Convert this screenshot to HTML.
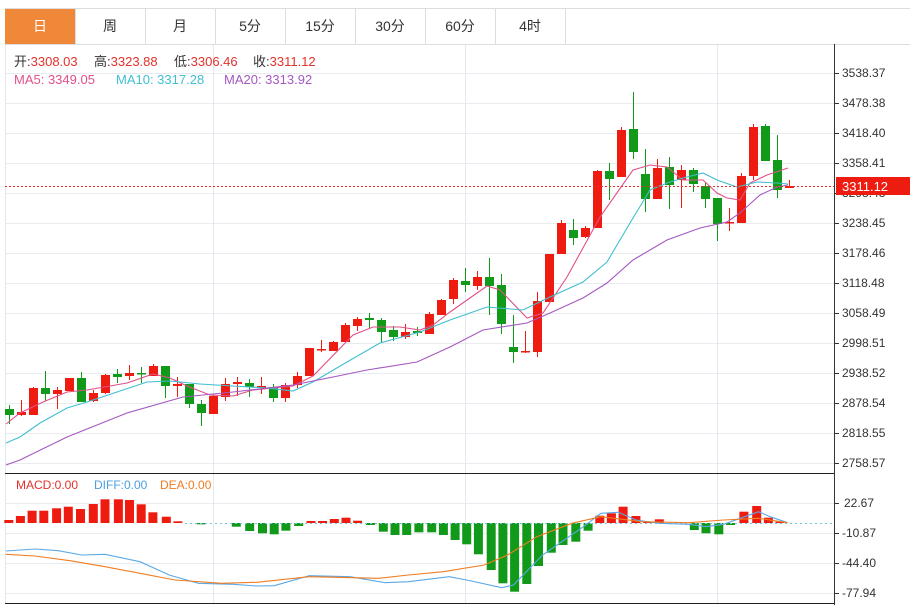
<!DOCTYPE html>
<html><head><meta charset="utf-8"><style>
body{margin:0;background:#fff;width:910px;height:605px;overflow:hidden;font-family:"Liberation Sans","Noto Sans CJK SC",sans-serif}
svg{position:absolute;left:0;top:0}
</style></head><body>
<svg id="s" width="910" height="605" xmlns="http://www.w3.org/2000/svg" font-family="Liberation Sans, Noto Sans CJK SC, sans-serif">
<g id="grid"></g>
<line x1="5" y1="8.5" x2="910" y2="8.5" stroke="#ddd"/>
<line x1="5" y1="44.5" x2="910" y2="44.5" stroke="#ddd"/>
<rect x="5" y="9" width="70" height="35" fill="#f0883a"/>
<g stroke="#ddd"><line x1="145.5" y1="9" x2="145.5" y2="44"/><line x1="215.5" y1="9" x2="215.5" y2="44"/><line x1="285.5" y1="9" x2="285.5" y2="44"/><line x1="355.5" y1="9" x2="355.5" y2="44"/><line x1="425.5" y1="9" x2="425.5" y2="44"/><line x1="495.5" y1="9" x2="495.5" y2="44"/><line x1="565.5" y1="9" x2="565.5" y2="44"/><line x1="75.5" y1="9" x2="75.5" y2="44"/></g>
<g font-size="14" text-anchor="middle" fill="#333">
<text x="40" y="31" fill="#fff">日</text><text x="110" y="31">周</text><text x="180" y="31">月</text><text x="250" y="31">5分</text><text x="320" y="31">15分</text><text x="390" y="31">30分</text><text x="460" y="31">60分</text><text x="530" y="31">4时</text>
</g>
<g font-size="13">
<text x="14" y="66" fill="#333">开:<tspan fill="#e4312b">3308.03</tspan></text>
<text x="94" y="66" fill="#333">高:<tspan fill="#e4312b">3323.88</tspan></text>
<text x="174" y="66" fill="#333">低:<tspan fill="#e4312b">3306.46</tspan></text>
<text x="253" y="66" fill="#333">收:<tspan fill="#e4312b">3311.12</tspan></text>
<text x="14" y="84" fill="#e0508a">MA5: 3349.05</text>
<text x="116" y="84" fill="#3fbfd0">MA10: 3317.28</text>
<text x="224" y="84" fill="#a558c0">MA20: 3313.92</text>
<g font-size="12"><text x="16" y="489" fill="#e4312b">MACD:0.00</text><text x="94" y="489" fill="#4a9ee0">DIFF:0.00</text><text x="160" y="489" fill="#f07d22">DEA:0.00</text></g>
</g>
<g id="plot"></g>
<line x1="834.5" y1="44" x2="834.5" y2="605" stroke="#333"/>
<line x1="5" y1="473.5" x2="834" y2="473.5" stroke="#222"/>
<line x1="5" y1="603.5" x2="834" y2="603.5" stroke="#222"/>
<g font-size="12" fill="#333">
<text x="842" y="77">3538.37</text><text x="842" y="107">3478.38</text><text x="842" y="137">3418.40</text><text x="842" y="167">3358.41</text><text x="842" y="197">3298.43</text><text x="842" y="227">3238.45</text><text x="842" y="257">3178.46</text><text x="842" y="287">3118.48</text><text x="842" y="317">3058.49</text><text x="842" y="347">2998.51</text><text x="842" y="377">2938.52</text><text x="842" y="407">2878.54</text><text x="842" y="437">2818.55</text><text x="842" y="467">2758.57</text>
<text x="844" y="507">22.67</text><text x="842" y="537">-10.87</text><text x="842" y="567">-44.40</text><text x="842" y="597">-77.94</text>
</g>
<line x1="5" y1="186.5" x2="834" y2="186.5" stroke="#e4312b" stroke-dasharray="2,2"/>
<rect x="836" y="177" width="74" height="18" fill="#ee1c10"/>
<text x="842" y="191" font-size="13" fill="#fff">3311.12</text>
</svg>
<script>
var NS="http://www.w3.org/2000/svg",g=document.getElementById('grid'),p=document.getElementById('plot');
function el(par,t,a){var e=document.createElementNS(NS,t);for(var k in a)e.setAttribute(k,a[k]);par.appendChild(e);return e;}
for(var y=73;y<=463;y+=30){el(g,'line',{x1:5,y1:y+.5,x2:834,y2:y+.5,stroke:'#e8ecf0'});el(g,'line',{x1:834,y1:y+.5,x2:839,y2:y+.5,stroke:'#333'});}
[503,533,563,593].forEach(function(y){el(g,'line',{x1:5,y1:y+.5,x2:834,y2:y+.5,stroke:'#e8ecf0'});el(g,'line',{x1:834,y1:y+.5,x2:839,y2:y+.5,stroke:'#333'});});
[5.5,213.5,465.5,717.5].forEach(function(x){el(g,'line',{x1:x,y1:45,x2:x,y2:603,stroke:'#e3e8ee'});});
var C=[[409,415,405,424,'G'],[412,415,400,416,'R'],[388,415,387,415,'R'],[388,394,371,401,'G'],[390,394,387,409,'R'],[378,391,378,391,'R'],[378,402,372,402,'G'],[393,401,390,402,'R'],[375,393,374,394,'R'],[374,377,369,383,'G'],[373,376,365,380,'R'],[373,374,367,383,'G'],[366,376,364,376,'R'],[366,386,366,398,'G'],[384,386,377,397,'R'],[384,404,384,408,'G'],[404,413,400,426,'G'],[396,414,395,414,'R'],[384,397,378,401,'R'],[382,384,377,396,'R'],[383,387,379,397,'G'],[386,387,377,394,'R'],[387,398,384,402,'G'],[385,398,383,402,'R'],[376,385,372,388,'R'],[348,376,348,376,'R'],[349,350,340,352,'R'],[342,351,341,351,'R'],[325,342,323,342,'R'],[319,326,317,331,'R'],[318,320,313,329,'G'],[320,332,318,342,'G'],[330,337,326,341,'G'],[332,337,324,339,'R'],[331,333,327,336,'G'],[314,334,312,334,'R'],[300,315,299,315,'R'],[280,299,278,304,'R'],[281,285,268,292,'G'],[277,286,271,290,'R'],[277,286,258,315,'G'],[285,324,274,334,'G'],[347,352,315,363,'G'],[351,352,331,353,'R'],[301,352,292,357,'R'],[254,302,254,302,'R'],[223,254,220,254,'R'],[230,238,219,245,'G'],[228,237,226,238,'R'],[171,228,170,228,'R'],[171,179,163,200,'G'],[130,177,127,177,'R'],[129,152,92,159,'G'],[174,199,149,212,'G'],[168,199,159,199,'R'],[167,185,157,209,'G'],[170,180,165,208,'R'],[170,184,168,192,'G'],[186,199,182,208,'G'],[198,224,198,241,'G'],[222,223,208,231,'R'],[176,223,173,223,'R'],[127,176,124,180,'R'],[126,161,124,161,'G'],[160,190,135,198,'G'],[186,188,180,188,'R']];
C.forEach(function(c,i){var x=9+12*i,col=c[4]=='R'?'#ee1c10':'#119a1a';
el(p,'line',{x1:x+.5,y1:c[2],x2:x+.5,y2:c[3],stroke:col});
el(p,'rect',{x:x-4,y:c[0],width:9,height:Math.max(1.5,c[1]-c[0]),fill:col});});
function pl(pts,col,sx,sy,ox,oy){el(p,'polyline',{points:pts.map(function(q){return (ox+q[0]/sx).toFixed(1)+','+(oy+q[1]/sy).toFixed(1)}).join(' '),fill:'none',stroke:col,'stroke-width':1.1});}
pl([[6,424],[20,413],[43,402],[67,392],[87,390],[127,383],[153,374],[170,378],[187,386],[210,395],[233,396],[253,390],[293,386],[313,376],[353,335],[373,327],[400,327],[420,330],[433,325],[450,312],[487,286],[500,290],[527,318],[543,313],[567,277],[600,217],[633,170],[650,165],[667,167],[683,180],[703,180],[717,193],[727,198],[740,200],[750,183],[767,175],[788,168]],'#e0508a',1,1,0,0);
pl([[6,443],[20,437],[40,423],[67,408],[87,402],[117,392],[147,382],[170,381],[200,384],[233,386],[267,388],[293,391],[313,382],[347,362],[380,343],[420,332],[450,320],[487,307],[523,310],[550,297],[583,282],[607,262],[630,223],[650,190],[667,183],[683,178],[703,173],[717,180],[737,187],[757,182],[777,183],[788,184]],'#3fbfd0',1,1,0,0);
pl([[6,465],[20,460],[67,437],[127,413],[183,397],[233,392],[293,385],[333,377],[367,370],[417,362],[450,347],[483,330],[527,323],[550,313],[583,298],[607,283],[633,260],[667,240],[700,228],[727,222],[740,213],[760,195],[777,187],[788,185]],'#a558c0',1,1,0,0);
var Z=523,S=1.714;
var B=[[15,150],[35,138],[55,122],[75,122],[97,115],[117,110],[138,117],[160,102],[180,88],[203,88],[222,90],[242,103],[262,127],[285,140],[305,154],[345,163],[405,170],[428,183],[450,190],[470,193],[490,182],[512,168],[533,153],[553,153],[573,147],[593,143],[613,152],[635,165],[657,185],[677,195],[697,195],[718,187],[740,187],[760,195],[780,210],[800,223],[820,253],[842,300],[862,340],[882,365],[903,342],[923,288],[945,248],[965,225],[987,215],[1008,182],[1028,137],[1048,130],[1068,110],[1090,138],[1110,155],[1130,148],[1190,180],[1210,190],[1232,193],[1252,165],[1275,125],[1297,108],[1317,143],[1337,155]];
B.forEach(function(b){var x=b[0]/S,y=470+b[1]/3,t=Math.min(y,Z),h=Math.max(1,Math.abs(y-Z));
el(p,'rect',{x:(x-4.5).toFixed(1),y:t.toFixed(1),width:9,height:h.toFixed(1),fill:y<Z?'#ee1c10':'#119a1a'});});
el(p,'line',{x1:185,y1:Z+.5,x2:834,y2:Z+.5,stroke:'#7cc4dc','stroke-dasharray':'2,3'});
pl([[10,243],[60,237],[100,242],[140,255],[180,253],[240,275],[290,315],[340,340],[400,343],[440,348],[470,347],[530,317],[600,320],[660,338],[700,335],[770,320],[800,330],[860,353],[880,345],[930,255],[1000,170],[1030,130],[1060,127],[1090,150],[1130,160],[1180,163],[1210,170],[1240,163],[1300,125],[1320,140],[1350,158]],'#5aa9e6',S,3,0,470);
pl([[10,253],[60,258],[120,272],[180,290],[240,310],[300,330],[380,340],[440,337],[530,320],[650,325],[700,315],[760,305],[830,285],[870,255],[920,200],[980,160],[1030,140],[1100,155],[1180,158],[1240,150],[1300,145],[1350,158]],'#f07d22',S,3,0,470);
</script>
</body></html>
